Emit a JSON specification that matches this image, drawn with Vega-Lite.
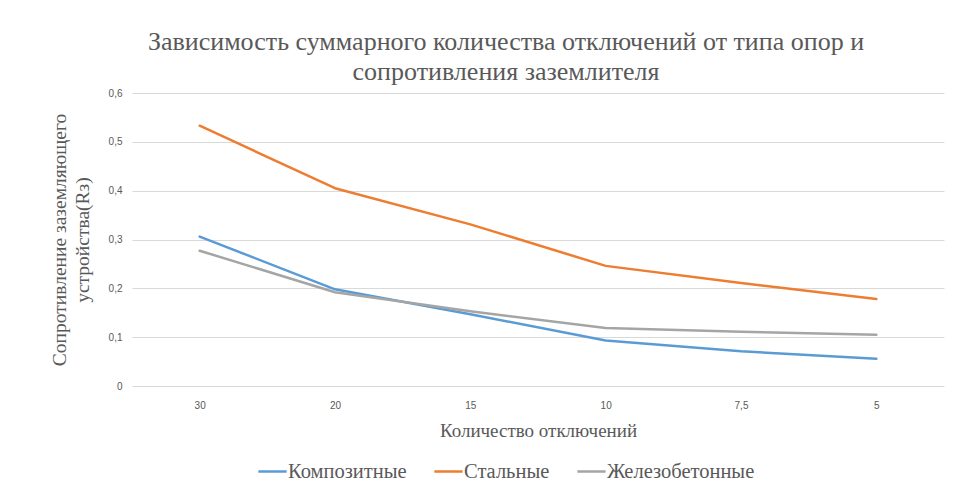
{
  "$schema": "https://vega.github.io/schema/vega-lite/v6.json",
  "width": 812,
  "height": 293,
  "autosize": {"type": "none"},
  "padding": {"left": 132, "top": 93, "right": 10, "bottom": 102},
  "background": "white",
  "title": {
    "text": ["Зависимость суммарного количества отключений от типа опор и", "сопротивления заземлителя"],
    "font": "'Liberation Serif', 'DejaVu Serif', serif",
    "fontSize": 26,
    "fontWeight": "normal",
    "color": "#595959",
    "anchor": "middle",
    "dx": -32,
    "offset": 3,
    "lineHeight": 30
  },
  "data": {
    "values": [
      {"x": "30", "s": "Композитные", "v": 0.306},
      {"x": "20", "s": "Композитные", "v": 0.198},
      {"x": "15", "s": "Композитные", "v": 0.147},
      {"x": "10", "s": "Композитные", "v": 0.093},
      {"x": "7,5", "s": "Композитные", "v": 0.071},
      {"x": "5", "s": "Композитные", "v": 0.056},
      {"x": "30", "s": "Стальные", "v": 0.533},
      {"x": "20", "s": "Стальные", "v": 0.405},
      {"x": "15", "s": "Стальные", "v": 0.331},
      {"x": "10", "s": "Стальные", "v": 0.246},
      {"x": "7,5", "s": "Стальные", "v": 0.211},
      {"x": "5", "s": "Стальные", "v": 0.178},
      {"x": "30", "s": "Железобетонные", "v": 0.277},
      {"x": "20", "s": "Железобетонные", "v": 0.192},
      {"x": "15", "s": "Железобетонные", "v": 0.153},
      {"x": "10", "s": "Железобетонные", "v": 0.119},
      {"x": "7,5", "s": "Железобетонные", "v": 0.111},
      {"x": "5", "s": "Железобетонные", "v": 0.105}
    ]
  },
  "mark": {"type": "line", "strokeWidth": 2.5, "strokeCap": "round", "strokeJoin": "round"},
  "encoding": {
    "x": {
      "field": "x",
      "type": "ordinal",
      "sort": ["30", "20", "15", "10", "7,5", "5"],
      "scale": {"type": "point", "padding": 0.5},
      "axis": {
        "title": "Количество отключений",
        "titleFont": "'Liberation Serif', 'DejaVu Serif', serif",
        "titleFontSize": 19,
        "titleFontWeight": "normal",
        "titleColor": "#595959",
        "titlePadding": 11,
        "labelFont": "'Liberation Sans', sans-serif",
        "labelFontSize": 10,
        "labelColor": "#595959",
        "labelPadding": 14,
        "labelAngle": 0,
        "domain": false,
        "ticks": false,
        "grid": false
      }
    },
    "y": {
      "field": "v",
      "type": "quantitative",
      "scale": {"domain": [0, 0.6], "nice": false},
      "axis": {
        "values": [0, 0.1, 0.2, 0.3, 0.4, 0.5, 0.6],
        "labelExpr": "datum.value == 0 ? '0' : replace(format(datum.value, '.1f'), '.', ',')",
        "title": ["Сопротивление заземляющего", "устройства(Rз)"],
        "titleFont": "'Liberation Serif', 'DejaVu Serif', serif",
        "titleFontSize": 19.5,
        "titleFontWeight": "normal",
        "titleColor": "#595959",
        "titlePadding": 16,
        "titleLineHeight": 23,
        "labelFont": "'Liberation Sans', sans-serif",
        "labelFontSize": 10,
        "labelColor": "#595959",
        "labelPadding": 10,
        "domain": false,
        "ticks": false,
        "grid": true,
        "gridColor": "#D9D9D9",
        "gridWidth": 1
      }
    },
    "color": {
      "field": "s",
      "type": "nominal",
      "sort": ["Композитные", "Стальные", "Железобетонные"],
      "scale": {"domain": ["Композитные", "Стальные", "Железобетонные"], "range": ["#5B9BD5", "#ED7D31", "#A5A5A5"]},
      "legend": {
        "title": null,
        "orient": "none",
        "direction": "horizontal",
        "legendX": 125,
        "legendY": 363,
        "symbolType": "stroke",
        "symbolStrokeWidth": 2.5,
        "symbolSize": 800,
        "labelFont": "'Liberation Serif', 'DejaVu Serif', serif",
        "labelFontSize": 20.5,
        "labelColor": "#595959",
        "labelOffset": 0,
        "columnPadding": 22
      }
    }
  },
  "config": {"view": {"stroke": null}}
}
